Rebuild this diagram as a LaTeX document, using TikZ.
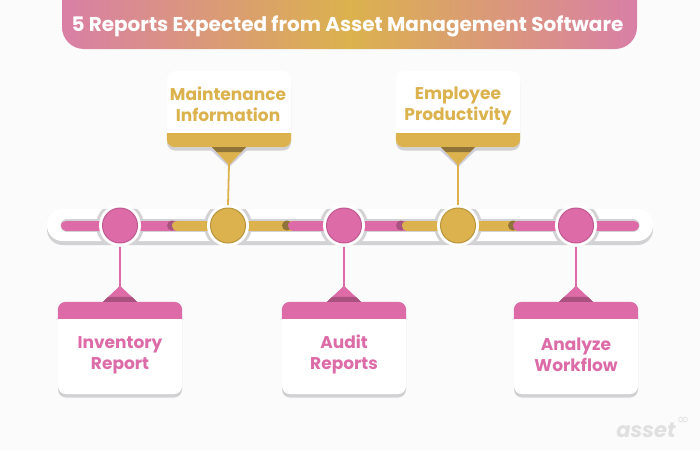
\documentclass[tikz,border=0pt]{standalone}
\usepackage{xcolor}
\usepackage{fontspec}
\setmainfont{Poppins}
\newfontfamily\infinityfont{DejaVu Sans}
\usetikzlibrary{shadows}

\definecolor{reportpink}{HTML}{DC6BA8}
\definecolor{titlepink}{HTML}{D97FA6}
\definecolor{darkpink}{HTML}{A9527F}
\definecolor{edgepink}{HTML}{BE5A92}
\definecolor{reportgold}{HTML}{DBB24D}
\definecolor{darkgold}{HTML}{8F7338}
\definecolor{edgegold}{HTML}{B8943A}
\definecolor{pagegray}{HTML}{FBFBFB}
\definecolor{shadegray}{HTML}{D2D2D4}
\definecolor{pointergray}{HTML}{CFCFDB}

\begin{document}
\begin{tikzpicture}[x=1pt, y=-1pt,
    cardbox/.style={fill=white, rounded corners=8pt, minimum width=124pt, inner sep=0pt,
      drop shadow={shadow xshift=0pt, shadow yshift=-3.5pt, fill=shadegray, opacity=1}},
    topcard/.style={cardbox, minimum height=76pt},
    lowcard/.style={cardbox, minimum height=92pt},
    cardtext/.style={font=\fontsize{17}{21}\selectfont\bfseries, align=center},
    dot/.style={circle, minimum size=35pt, inner sep=0pt, line width=1pt},
    link/.style={line width=1.8pt},
    bar/.style={line width=10pt, line cap=round}]
  \useasboundingbox[fill=pagegray] (0,0) rectangle (700,450);

  % Title
  \path[left color=titlepink, right color=titlepink, middle color=reportgold, rounded corners=22pt]
    (62,-30) rectangle (637,49);
  \node (title) [text=white, font=\fontsize{20}{24}\selectfont\bfseries] at (347.5,26)
    {5 Reports Expected from Asset Management Software};

  % Timeline
  \fill[shadegray, rounded corners=15.5pt] (47,214) rectangle (653,245);
  \fill[white, rounded corners=15.5pt] (47,209) rectangle (653,241);
  \begin{scope}
    \clip[rounded corners=15.5pt] (47,209) rectangle (653,241);
    \foreach \x in {120,228,344,458,576}
      \fill[shadegray] (\x,225.5) circle (24);
  \end{scope}
  \draw[line width=13pt, line cap=round, shadegray] (67,225.5) -- (633,225.5);
  \draw[bar, reportpink] (66,225.5) -- (180,225.5);
  \fill[darkpink] (172,225.5) circle (5);
  \draw[bar, reportgold] (177,225.5) -- (295,225.5);
  \fill[darkgold] (287,225.5) circle (5);
  \draw[bar, reportpink] (293,225.5) -- (410,225.5);
  \fill[darkpink] (401,225.5) circle (5);
  \draw[bar, reportgold] (407,225.5) -- (520,225.5);
  \fill[darkgold] (513,225.5) circle (5);
  \draw[bar, reportpink] (518,225.5) -- (634,225.5);

  % Dots
  \foreach \x in {120,228,344,458,576}
    \fill[white] (\x,225.5) circle (21);
  \node (dotinventory) [dot, fill=reportpink, draw=edgepink] at (120,225.5) {};
  \node (dotmaintenance) [dot, fill=reportgold, draw=edgegold] at (228,225.5) {};
  \node (dotaudit) [dot, fill=reportpink, draw=edgepink] at (344,225.5) {};
  \node (dotemployee) [dot, fill=reportgold, draw=edgegold] at (458,225.5) {};
  \node (dotanalyze) [dot, fill=reportpink, draw=edgepink] at (576,225.5) {};

  % Cards
  \node (maintenance) [topcard] at (229,109) {};
  \node (employee) [topcard] at (458,109) {};
  \node (inventory) [lowcard] at (120,348) {};
  \node (audit) [lowcard] at (344,348) {};
  \node (analyze) [lowcard] at (576,348) {};

  % Card bands and pointers above the timeline
  \foreach \card in {maintenance,employee} {
    \fill[pointergray] ([xshift=-20pt,yshift=-1pt]\card.south) -- ([xshift=20pt,yshift=-1pt]\card.south) -- ([yshift=-20pt]\card.south) -- cycle;
    \fill[reportgold] ([yshift=14pt]\card.south west) [rounded corners=8pt] -- (\card.south west) -- (\card.south east) [sharp corners] -- ([yshift=14pt]\card.south east) -- cycle;
    \fill[reportgold] ([xshift=-17pt]\card.south) -- ([xshift=17pt]\card.south) -- ([yshift=-18pt]\card.south) -- cycle;
    \fill[darkgold] ([xshift=-17pt]\card.south) -- ([xshift=17pt]\card.south) -- ([xshift=12pt,yshift=-5pt]\card.south) -- ([xshift=-12pt,yshift=-5pt]\card.south) -- cycle;
    \coordinate (\card tip) at ([yshift=-17pt]\card.south);
  }

  % Card bands and pointers below the timeline
  \foreach \card in {inventory,audit,analyze} {
    \fill[reportpink] ([yshift=-17pt]\card.north west) [rounded corners=8pt] -- (\card.north west) -- (\card.north east) [sharp corners] -- ([yshift=-17pt]\card.north east) -- cycle;
    \fill[reportpink] ([xshift=-17pt]\card.north) -- ([xshift=17pt]\card.north) -- ([yshift=16pt]\card.north) -- cycle;
    \fill[darkpink] ([xshift=-17pt]\card.north) -- ([xshift=17pt]\card.north) -- ([xshift=12pt,yshift=5pt]\card.north) -- ([xshift=-12pt,yshift=5pt]\card.north) -- cycle;
    \coordinate (\card tip) at ([yshift=15pt]\card.north);
  }

  % Card labels
  \node (maintenancetext) [cardtext, text=reportgold] at (228,104) {Maintenance\\Information};
  \node (employeetext) [cardtext, text=reportgold] at (458,106) {Employee\\Productivity};
  \node (inventorytext) [cardtext, text=reportpink] at (120,355) {Inventory\\Report};
  \node (audittext) [cardtext, text=reportpink] at (344,354.5) {Audit\\Reports};
  \node (analyzetext) [cardtext, text=reportpink] at (576,354.5) {Analyze\\Workflow};

  % Links
  \draw[link, reportgold] (maintenancetip) -- (dotmaintenance.north |- 0,205);
  \draw[link, reportgold] (employeetip) -- (dotemployee.north |- 0,205);
  \draw[link, reportpink] (dotinventory.south |- 0,247) -- (inventorytip);
  \draw[link, reportpink] (dotaudit.south |- 0,247) -- (audittip);
  \draw[link, reportpink] (dotanalyze.south |- 0,247) -- (analyzetip);

  % Logo
  \node (logo) [text=black!12, font=\fontsize{21}{24}\selectfont\bfseries\itshape] at (646,430) {asset};
  \node (logomark) [text=black!12, font=\fontsize{15}{16}\infinityfont] at (683,421) {∞};
\end{tikzpicture}
\end{document}
